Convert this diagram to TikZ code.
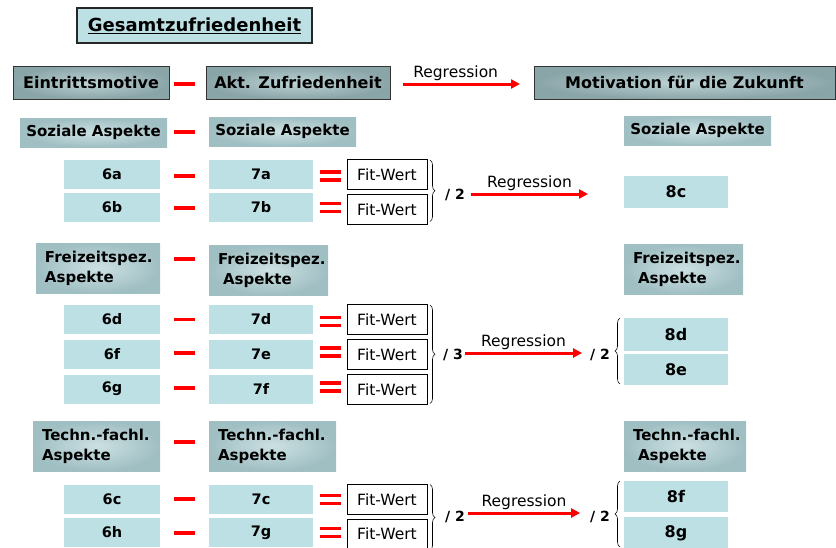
\documentclass[tikz,border=0pt]{standalone}
\usepackage{fontspec}
\setmainfont{DejaVu Sans}
\usetikzlibrary{arrows.meta,decorations.pathreplacing,calc}
\definecolor{cellc}{HTML}{BDE0E4}
\definecolor{catout}{HTML}{A0BFC3}
\definecolor{catin}{HTML}{CCE0E2}
\definecolor{hdout}{HTML}{8AA5A8}
\definecolor{hdin}{HTML}{BDD2D4}
\definecolor{redc}{HTML}{FF0000}
\begin{document}
\begin{tikzpicture}[x=1pt,y=-1pt,
 every node/.style={inner sep=0pt, outer sep=0pt},
 cell/.style={fill=cellc, minimum width=96pt, minimum height=29pt, font=\fontsize{14.5}{16}\selectfont\bfseries},
 cellb/.style={cell, minimum width=104pt},
 cellc8/.style={cell, minimum width=104pt, font=\fontsize{16}{18}\selectfont\bfseries},
 cat/.style={inner color=catin, outer color=catout, font=\fontsize{15}{20}\selectfont\bfseries},
 cattwo/.style={cat, align=left, inner xsep=9pt, minimum height=50pt},
 hdr/.style={inner color=hdin, outer color=hdout, draw=black!80, line width=1pt, minimum height=33pt, font=\fontsize{16}{18}\selectfont\bfseries},
 fitbox/.style={draw, fill=white, line width=1pt, minimum width=80pt, minimum height=30pt, font=\fontsize{15.5}{18}\selectfont},
 reddash/.style={draw=redc, line width=3.5pt},
 regarrow/.style={draw=redc, line width=3pt, -{Triangle[length=9pt,width=9pt]}},
 reglabel/.style={font=\fontsize{15.5}{18}\selectfont},
 divn/.style={font=\fontsize{14}{16}\selectfont\bfseries},
 brc/.style={decorate, decoration={brace, amplitude=5pt}, line width=0.6pt}
]
\useasboundingbox (0,0) rectangle (836,547);

% title
\node[draw=black!85, line width=1.2pt, fill=cellc, minimum width=235pt, minimum height=35pt, font=\fontsize{18}{20}\selectfont\bfseries] (title) at (194.5,25.5) {\underline{Gesamtzufriedenheit}};

% header row
\node[hdr, minimum width=156pt] (eint) at (91,82.5) {Eintrittsmotive};
\node[hdr, minimum width=184pt] (akt) at (298,82.5) {Akt. Zufriedenheit};
\node[hdr, minimum width=301pt] (motiv) at (684.5,82.5) {Motivation für die Zukunft};
\draw[reddash] ($(akt.west)+(-32,1.5)$) -- ($(akt.west)+(-11,1.5)$);
\draw[regarrow] ($(akt.east)+(13,1.5)$) -- ($(motiv.west)+(-14,1.5)$) node[reglabel, pos=0.45, above=3pt] {Regression};

% Soziale Aspekte
\node[cat, minimum width=147pt, minimum height=29pt] (sozL) at (93.5,132.5) {Soziale Aspekte};
\node[cat, minimum width=147pt, minimum height=29pt] (sozM) at (282.5,131.5) {Soziale Aspekte};
\node[cat, minimum width=147pt, minimum height=29pt] (sozR) at (697.5,130.5) {Soziale Aspekte};
\draw[reddash] ($(sozM.west)+(-35,0.5)$) -- ($(sozM.west)+(-14,0.5)$);

\node[cell] (s6a) at (112,174.5) {6a};
\node[cell] (s6b) at (112,207.5) {6b};
\node[cellb] (s7a) at (261,174.5) {7a};
\node[cellb] (s7b) at (261,207.5) {7b};
\node[fitbox] (f1) at (387,174.5) {Fit-Wert};
\node[fitbox] (f2) at (387,209.5) {Fit-Wert};
\draw[reddash] ($(s7a.west)+(-35,1.5)$) -- ($(s7a.west)+(-14,1.5)$);
\draw[reddash] ($(s7b.west)+(-35,0.5)$) -- ($(s7b.west)+(-14,0.5)$);
\foreach \n/\dy in {s7a/-2.5, s7a/5.5, s7b/-4, s7b/4}{
  \draw[draw=redc, line width=3.2pt] ($(\n.east)+(7,\dy)$) -- ($(\n.east)+(28,\dy)$);
}
\draw[brc] ($(f1.north east)+(3,0.5)$) -- ($(f2.south east)+(3,-3)$);
\node[divn] (d1) at (455,195) {/ 2};
\node[cellc8, minimum height=32pt] (c8c) at (676,192) {8c};
\draw[regarrow] ($(d1.east)+(6,-1)$) -- ($(d1.east -| c8c.west)+(-36,-1)$) node[reglabel, midway, above=3pt] {Regression};

% Freizeitspez. Aspekte
\node[cattwo, text width=106pt] (frL) at (98,268) {Freizeitspez.\\Aspekte};
\node[cattwo, text width=101pt] (frM) at (268.5,270) {Freizeitspez.\\\hspace*{5pt}Aspekte};
\node[cattwo, text width=101pt] (frR) at (683.5,269.5) {Freizeitspez.\\\hspace*{5pt}Aspekte};
\draw[reddash] ($(frM.west)+(-35,-11)$) -- ($(frM.west)+(-14,-11)$);

\node[cell] (s6d) at (112,319.5) {6d};
\node[cell] (s6f) at (112,354) {6f};
\node[cell] (s6g) at (112,389) {6g};
\node[cellb] (s7d) at (261,319.5) {7d};
\node[cellb] (s7e) at (261,354) {7e};
\node[cellb] (s7f) at (261,389) {7f};
\node[fitbox] (f3) at (387,319.5) {Fit-Wert};
\node[fitbox] (f4) at (387,354.5) {Fit-Wert};
\node[fitbox] (f5) at (387,389.5) {Fit-Wert};
\foreach \n/\dy in {s7d/0, s7e/-1, s7f/-1}{
  \draw[reddash] ($(\n.west)+(-35,\dy)$) -- ($(\n.west)+(-14,\dy)$);
}
\foreach \n/\dy in {s7d/-2, s7d/6, s7e/-6, s7e/2, s7f/-6, s7f/2}{
  \draw[draw=redc, line width=3.2pt] ($(\n.east)+(7,\dy)$) -- ($(\n.east)+(28,\dy)$);
}
\draw[brc] ($(f3.north east)+(3,0.5)$) -- ($(f5.south east)+(3,-1)$);
\node[divn] (d2) at (453,355) {/ 3};
\node[divn] (d3) at (600,355) {/ 2};
\draw[regarrow] ($(d2.east)+(2,-2)$) -- ($(d3.west)+(-8,-2)$) node[reglabel, midway, above=3pt] {Regression};
\node[cellc8, minimum height=33pt] (c8d) at (676,334.5) {8d};
\node[cellc8, minimum height=31pt] (c8e) at (676,369.5) {8e};
\draw[brc] ($(c8e.south west)+(-4,-1)$) -- ($(c8d.north west)+(-4,0)$);

% Techn.-fachl. Aspekte
\node[cattwo, text width=109pt] (teL) at (96.5,446) {\mbox{Techn.-fachl.}\\Aspekte};
\node[cattwo, text width=109pt] (teM) at (272.5,446) {\mbox{Techn.-fachl.}\\Aspekte};
\node[cattwo, text width=104pt] (teR) at (685,446) {\mbox{Techn.-fachl.}\\\hspace*{5pt}Aspekte};
\draw[reddash] ($(teM.west)+(-35,-4)$) -- ($(teM.west)+(-14,-4)$);

\node[cell] (s6c) at (112,499.5) {6c};
\node[cell] (s6h) at (112,532.5) {6h};
\node[cellb] (s7c) at (261,499.5) {7c};
\node[cellb] (s7g) at (261,532.5) {7g};
\node[fitbox] (f6) at (387,499.5) {Fit-Wert};
\node[fitbox] (f7) at (387,534) {Fit-Wert};
\draw[reddash] ($(s7c.west)+(-35,-0.5)$) -- ($(s7c.west)+(-14,-0.5)$);
\draw[reddash] ($(s7g.west)+(-35,0.5)$) -- ($(s7g.west)+(-14,0.5)$);
\foreach \n/\dy in {s7c/-4, s7c/4, s7g/-4, s7g/4}{
  \draw[draw=redc, line width=3.2pt] ($(\n.east)+(7,\dy)$) -- ($(\n.east)+(28,\dy)$);
}
\draw[brc] ($(f6.north east)+(3,0)$) -- ($(f6.north east)+(3,66)$);
\node[divn] (d4) at (455,517) {/ 2};
\node[divn] (d5) at (600,517) {/ 2};
\draw[regarrow] ($(d4.east)+(3,-4)$) -- ($(d5.west)+(-10,-4)$) node[reglabel, midway, above=3pt] {Regression};
\node[cellc8, minimum height=31pt] (c8f) at (676,496.5) {8f};
\node[cellc8, minimum height=33pt] (c8g) at (676,533.5) {8g};
\draw[brc] ($(c8f.north west)+(-4,66)$) -- ($(c8f.north west)+(-4,0)$);
\end{tikzpicture}
\end{document}
